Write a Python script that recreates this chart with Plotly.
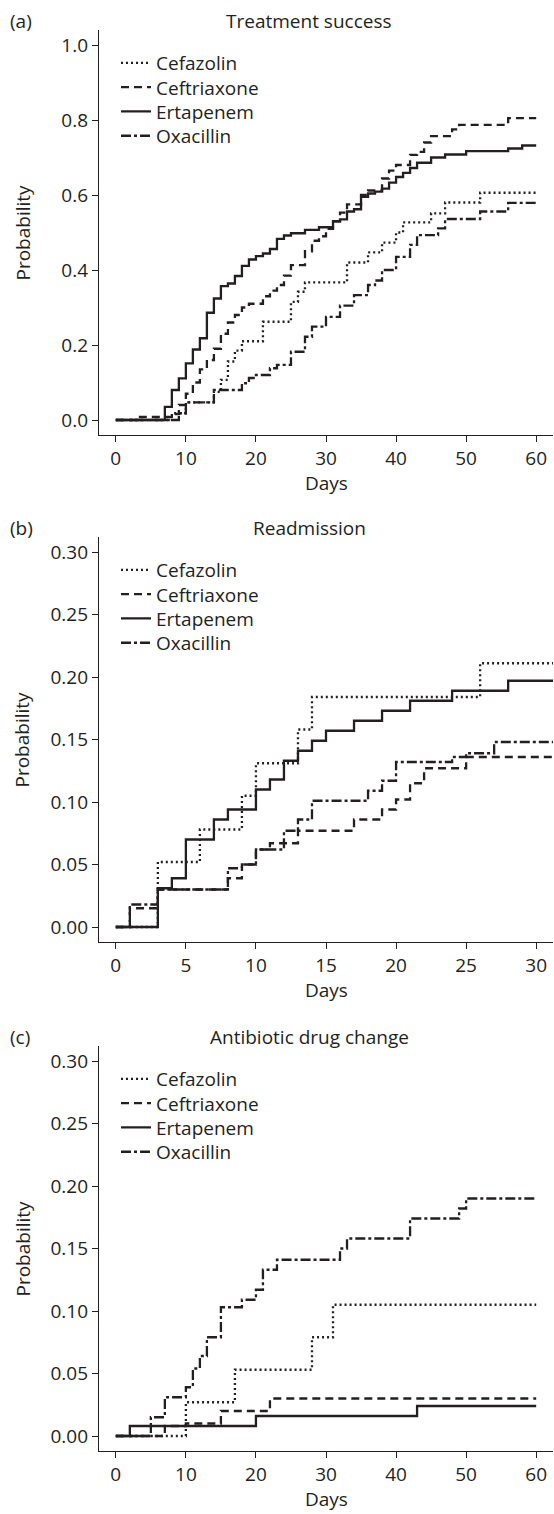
import plotly.graph_objects as go

# ---------------- data ----------------
drugs = ["Cefazolin", "Ceftriaxone", "Ertapenem", "Oxacillin"]

# (a) Treatment success
a_cef_days = [0, 8, 10, 14, 15, 16, 17, 18, 21, 25, 26, 27, 33, 36, 38, 40, 41, 45, 47, 52, 60]
a_cef_vals = [0, 0.018, 0.047, 0.075, 0.107, 0.156, 0.185, 0.21, 0.262, 0.315, 0.342, 0.367, 0.42, 0.447, 0.473, 0.50, 0.527, 0.551, 0.58, 0.606, 0.606]

a_cft_days = [0, 3, 8, 9, 10, 11, 12, 13, 14, 15, 16, 17, 18, 19, 21, 22, 23, 24, 25, 27, 28, 29, 30, 31, 32, 33, 35, 36, 38, 39, 40, 42, 43, 44, 45, 48, 49, 56, 60]
a_cft_vals = [0, 0.008, 0.016, 0.04, 0.07, 0.10, 0.135, 0.16, 0.19, 0.23, 0.26, 0.28, 0.30, 0.31, 0.33, 0.345, 0.36, 0.385, 0.413, 0.45, 0.478, 0.49, 0.51, 0.53, 0.553, 0.575, 0.60, 0.612, 0.644, 0.665, 0.68, 0.707, 0.715, 0.74, 0.757, 0.775, 0.787, 0.805, 0.805]

a_ert_days = [0, 7, 8, 9, 10, 11, 12, 13, 14, 15, 16, 17, 18, 19, 20, 21, 22, 23, 24, 25, 27, 29, 31, 32, 33, 34, 35, 36, 37, 38, 39, 40, 41, 42, 43, 45, 47, 50, 56, 58, 60]
a_ert_vals = [0, 0.035, 0.08, 0.111, 0.151, 0.188, 0.218, 0.286, 0.324, 0.357, 0.364, 0.384, 0.411, 0.428, 0.437, 0.444, 0.456, 0.483, 0.492, 0.498, 0.507, 0.514, 0.530, 0.535, 0.556, 0.562, 0.595, 0.604, 0.609, 0.617, 0.633, 0.648, 0.659, 0.672, 0.686, 0.700, 0.708, 0.717, 0.724, 0.732, 0.732]

a_oxa_days = [0, 9, 10, 14, 18, 19, 20, 22, 23, 25, 27, 28, 30, 32, 34, 36, 37, 38, 40, 42, 43, 46, 47, 52, 56, 60]
a_oxa_vals = [0, 0.018, 0.047, 0.08, 0.098, 0.112, 0.12, 0.138, 0.147, 0.182, 0.222, 0.249, 0.275, 0.305, 0.333, 0.36, 0.372, 0.40, 0.435, 0.467, 0.493, 0.511, 0.536, 0.556, 0.579, 0.579]

# (b) Readmission
b_cef_days = [0, 3, 6, 9, 10, 13, 14, 26, 31.2]
b_cef_vals = [0, 0.052, 0.078, 0.105, 0.131, 0.158, 0.184, 0.211, 0.211]

b_cft_days = [0, 1, 3, 8, 9, 10, 11, 13, 17, 19, 20, 21, 22, 25, 31.2]
b_cft_vals = [0, 0.015, 0.03, 0.039, 0.05, 0.062, 0.067, 0.077, 0.086, 0.094, 0.102, 0.115, 0.127, 0.136, 0.136]

b_ert_days = [0, 3, 4, 5, 7, 8, 10, 11, 12, 13, 14, 15, 17, 19, 21, 24, 28, 31.2]
b_ert_vals = [0, 0.031, 0.039, 0.070, 0.086, 0.094, 0.110, 0.118, 0.133, 0.141, 0.149, 0.157, 0.165, 0.173, 0.181, 0.189, 0.197, 0.197]

b_oxa_days = [0, 1, 3, 8, 9, 10, 12, 13, 14, 18, 19, 20, 24, 25, 27, 31.2]
b_oxa_vals = [0, 0.018, 0.03, 0.047, 0.05, 0.062, 0.077, 0.086, 0.101, 0.109, 0.117, 0.132, 0.136, 0.139, 0.148, 0.148]

# (c) Antibiotic drug change
c_cef_days = [0, 10, 17, 28, 31, 60]
c_cef_vals = [0, 0.027, 0.053, 0.079, 0.105, 0.105]

c_cft_days = [0, 7, 10, 15, 22, 60]
c_cft_vals = [0, 0.008, 0.010, 0.020, 0.030, 0.030]

c_ert_days = [0, 2, 20, 43, 60]
c_ert_vals = [0, 0.008, 0.016, 0.024, 0.024]

c_oxa_days = [0, 5, 7, 10, 11, 12, 13, 15, 18, 20, 21, 23, 32, 33, 42, 49, 50, 60]
c_oxa_vals = [0, 0.015, 0.031, 0.039, 0.054, 0.064, 0.079, 0.103, 0.109, 0.117, 0.133, 0.141, 0.150, 0.158, 0.174, 0.182, 0.190, 0.190]

panel_titles = ["Treatment success", "Readmission", "Antibiotic drug change"]
panel_tags = ["(a)", "(b)", "(c)"]
x_ticks = [[0, 10, 20, 30, 40, 50, 60], [0, 5, 10, 15, 20, 25, 30], [0, 10, 20, 30, 40, 50, 60]]
y_ticks = [[0.0, 0.2, 0.4, 0.6, 0.8, 1.0], [0.0, 0.05, 0.10, 0.15, 0.20, 0.25, 0.30], [0.0, 0.05, 0.10, 0.15, 0.20, 0.25, 0.30]]
y_ticktext = [["0.0", "0.2", "0.4", "0.6", "0.8", "1.0"],
              ["0.00", "0.05", "0.10", "0.15", "0.20", "0.25", "0.30"],
              ["0.00", "0.05", "0.10", "0.15", "0.20", "0.25", "0.30"]]
x_title = "Days"
y_title = "Probability"

panels = [
    [(a_cef_days, a_cef_vals), (a_cft_days, a_cft_vals), (a_ert_days, a_ert_vals), (a_oxa_days, a_oxa_vals)],
    [(b_cef_days, b_cef_vals), (b_cft_days, b_cft_vals), (b_ert_days, b_ert_vals), (b_oxa_days, b_oxa_vals)],
    [(c_cef_days, c_cef_vals), (c_cft_days, c_cft_vals), (c_ert_days, c_ert_vals), (c_oxa_days, c_oxa_vals)],
]

# ---------------- styling ----------------
INK = "#231f20"
FONT = "Open Sans"
FS = 19
W, H = 554, 1514
ML, MR, MT, MB = 99, 1, 30, 63
PW, PH = W - ML - MR, H - MT - MB


def px(X):
    return (X - ML) / PW


def py(Y):
    return (H - MB - Y) / PH


dashes = ["2px,3px", "8px,5px", "solid", "10px,3px,3px,3px"]
x_ranges = [[-2.4, 62.4], [-1.2, 31.2], [-2.4, 62.4]]
y_ranges = [[-0.04, 1.04], [-0.012, 0.312], [-0.012, 0.312]]
tops = [30, 537, 1046]
bots = [435, 942, 1451]

fig = go.Figure()
layout = dict(
    width=W, height=H,
    margin=dict(l=ML, r=MR, t=MT, b=MB, autoexpand=False),
    paper_bgcolor="white", plot_bgcolor="white",
    font=dict(family=FONT, size=FS, color=INK),
    showlegend=True,
)

for p in range(3):
    xa = "x" if p == 0 else f"x{p+1}"
    ya = "y" if p == 0 else f"y{p+1}"
    for k, (d, v) in enumerate(panels[p]):
        n = p * 4 + k + 1
        lg = "legend" if n == 1 else f"legend{n}"
        fig.add_trace(go.Scatter(
            x=d, y=v, mode="lines", name=drugs[k],
            line=dict(color=INK, width=2.3, dash=dashes[k], shape="hv"),
            xaxis=xa, yaxis=ya, legend=lg, showlegend=True,
        ))
        layout[lg] = dict(
            x=px(116), xanchor="left", y=py(tops[p] + 33 + 24.3 * k), yanchor="middle",
            bgcolor="rgba(0,0,0,0)", borderwidth=0,
            font=dict(size=FS, family=FONT, color=INK), itemclick=False,
        )

annotations = []
for p in range(3):
    xk = "xaxis" if p == 0 else f"xaxis{p+1}"
    yk = "yaxis" if p == 0 else f"yaxis{p+1}"
    anchor_x = "y" if p == 0 else f"y{p+1}"
    anchor_y = "x" if p == 0 else f"x{p+1}"
    layout[xk] = dict(
        domain=[0, 1], anchor=anchor_x, range=x_ranges[p], automargin=False,
        tickvals=x_ticks[p], ticks="outside", ticklen=6, tickwidth=1.3,
        tickcolor=INK, showline=True, linecolor=INK, linewidth=1.3,
        showgrid=False, zeroline=False,
        tickfont=dict(size=FS, family=FONT, color=INK),
    )
    layout[yk] = dict(
        domain=[py(bots[p]), py(tops[p])], anchor=anchor_y, range=y_ranges[p],
        automargin=False,
        tickvals=y_ticks[p], ticktext=y_ticktext[p], ticks="outside", ticklen=6,
        tickwidth=1.3, tickcolor=INK, showline=True, linecolor=INK, linewidth=1.3,
        showgrid=False, zeroline=False,
        tickfont=dict(size=FS, family=FONT, color=INK),
    )
    title_y = tops[p] - 9
    annotations.append(dict(text=panel_titles[p], x=px(309), y=py(title_y), xref="paper", yref="paper",
                            xanchor="center", yanchor="middle", showarrow=False,
                            font=dict(size=FS, family=FONT, color=INK)))
    annotations.append(dict(text=panel_tags[p], x=px(8), y=py(title_y), xref="paper", yref="paper",
                            xanchor="left", yanchor="middle", showarrow=False,
                            font=dict(size=FS, family=FONT, color=INK)))
    annotations.append(dict(text=x_title, x=px(326), y=py(bots[p] + 48), xref="paper", yref="paper",
                            xanchor="center", yanchor="middle", showarrow=False,
                            font=dict(size=FS, family=FONT, color=INK)))
    annotations.append(dict(text=y_title, x=px(22), y=py((tops[p] + bots[p]) / 2), xref="paper", yref="paper",
                            xanchor="center", yanchor="middle", showarrow=False, textangle=-90,
                            font=dict(size=FS, family=FONT, color=INK)))
layout["annotations"] = annotations
fig.update_layout(**layout)
fig.write_html(
    "out.html",
    config={"displayModeBar": False},
    post_script="document.body.style.margin='0';document.body.style.overflow='hidden';",
)
